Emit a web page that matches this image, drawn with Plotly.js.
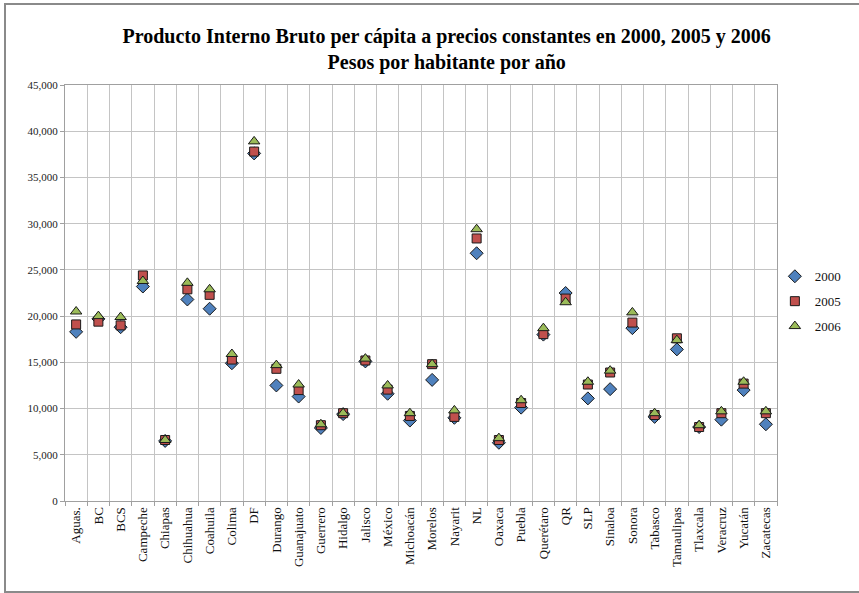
<!DOCTYPE html>
<html>
<head>
<meta charset="utf-8">
<script src="https://cdn.plot.ly/plotly-3.0.1.min.js"></script>
<style>
    body { margin: 0; background: white; }
    #chart { width: 859px; height: 593px; }
    #frame {
        position: absolute; left: 4px; top: 3px; width: 880px; height: 586px;
        border: 2px solid #8a8a8a; pointer-events: none;
    }
</style>
</head>
<body>
<div id="chart"></div>
<div id="frame"></div>
<script>
// PIB per cápita (pesos por habitante por año)
const estados = ['Aguas.', 'BC', 'BCS', 'Campeche', 'Chiapas', 'Chihuahua', 'Coahuila', 'Colima', 'DF',
    'Durango', 'Guanajuato', 'Guerrero', 'Hidalgo', 'Jalisco', 'México', 'Michoacán', 'Morelos', 'Nayarit',
    'NL', 'Oaxaca', 'Puebla', 'Querétaro', 'QR', 'SLP', 'Sinaloa', 'Sonora', 'Tabasco', 'Tamaulipas',
    'Tlaxcala', 'Veracruz', 'Yucatán', 'Zacatecas'];

const pib2000 = [18300, 19700, 18800, 23200, 6500, 21800, 20800, 14900, 37600,
    12500, 11300, 7900, 9400, 15100, 11600, 8700, 13100, 9000,
    26800, 6300, 10100, 18000, 22500, 11100, 12100, 18700, 9100, 16400,
    8000, 8800, 12000, 8300];

const pib2005 = [19100, 19400, 19000, 24400, 6600, 22900, 22300, 15300, 37800,
    14300, 12000, 8200, 9500, 15200, 12050, 9200, 14800, 9100,
    28400, 6600, 10600, 18050, 21900, 12600, 13900, 19300, 9300, 17600,
    8000, 9500, 12700, 9500];

const pib2006 = [20500, 20000, 19900, 23800, 6600, 23600, 22900, 15900, 38900,
    14700, 12600, 8300, 9500, 15400, 12500, 9500, 14800, 9800,
    29400, 6800, 10900, 18700, 21500, 12900, 14100, 20400, 9500, 17400,
    8200, 9700, 12900, 9700];

const serif = 'Liberation Serif, Times New Roman, serif';

function serie(name, y, symbol, color, size) {
    return {
        x: estados,
        y: y,
        name: name,
        legendgroup: name,
        type: 'scatter',
        mode: 'markers',
        marker: { symbol: symbol, color: color, size: size, line: { color: '#1a1a1a', width: 1 } }
    };
}

const data = [
    serie('2000', pib2000, 'diamond', '#4f81bd', 10),
    serie('2005', pib2005, 'square', '#c0504d', 9),
    serie('2006', pib2006, 'triangle-up', '#9bbb59', 10)
];

const layout = {
    width: 859,
    height: 593,
    margin: { l: 65, r: 69, t: 85, b: 92 },
    paper_bgcolor: 'white',
    plot_bgcolor: 'white',
    font: { family: serif, color: '#222' },
    title: {
        text: '<b>Producto Interno Bruto per cápita a precios constantes en 2000, 2005 y 2006<br>Pesos por habitante por año</b>',
        font: { family: serif, size: 20, color: '#000' },
        xref: 'container', x: 0.52, xanchor: 'center',
        yref: 'container', y: 0.928, yanchor: 'top'
    },
    xaxis: {
        type: 'category',
        range: [-0.5, 31.5],
        tickson: 'boundaries',
        showgrid: true,
        gridcolor: '#c4c4c4',
        gridwidth: 1,
        ticks: 'outside',
        ticklen: 4,
        tickcolor: '#a0a0a0',
        tickangle: -90,
        tickfont: { family: serif, size: 13, color: '#111' },
        showline: true,
        linecolor: '#a0a0a0',
        mirror: true,
        zeroline: false
    },
    yaxis: {
        range: [0, 45000],
        dtick: 5000,
        tickformat: ',d',
        showgrid: true,
        gridcolor: '#c4c4c4',
        gridwidth: 1,
        ticks: 'outside',
        ticklen: 4,
        tickcolor: '#a0a0a0',
        tickfont: { family: serif, size: 11, color: '#222' },
        showline: true,
        linecolor: '#a0a0a0',
        mirror: true,
        zeroline: false
    },
    showlegend: true,
    legend: {
        x: 0.997, xanchor: 'left',
        y: 0.48, yanchor: 'middle',
        bgcolor: 'rgba(0,0,0,0)',
        font: { family: serif, size: 13, color: '#111' },
        traceorder: 'grouped',
        tracegroupgap: 5,
        itemwidth: 30
    }
};

Plotly.newPlot('chart', data, layout, { displayModeBar: false, staticPlot: true });
</script>
</body>
</html>
